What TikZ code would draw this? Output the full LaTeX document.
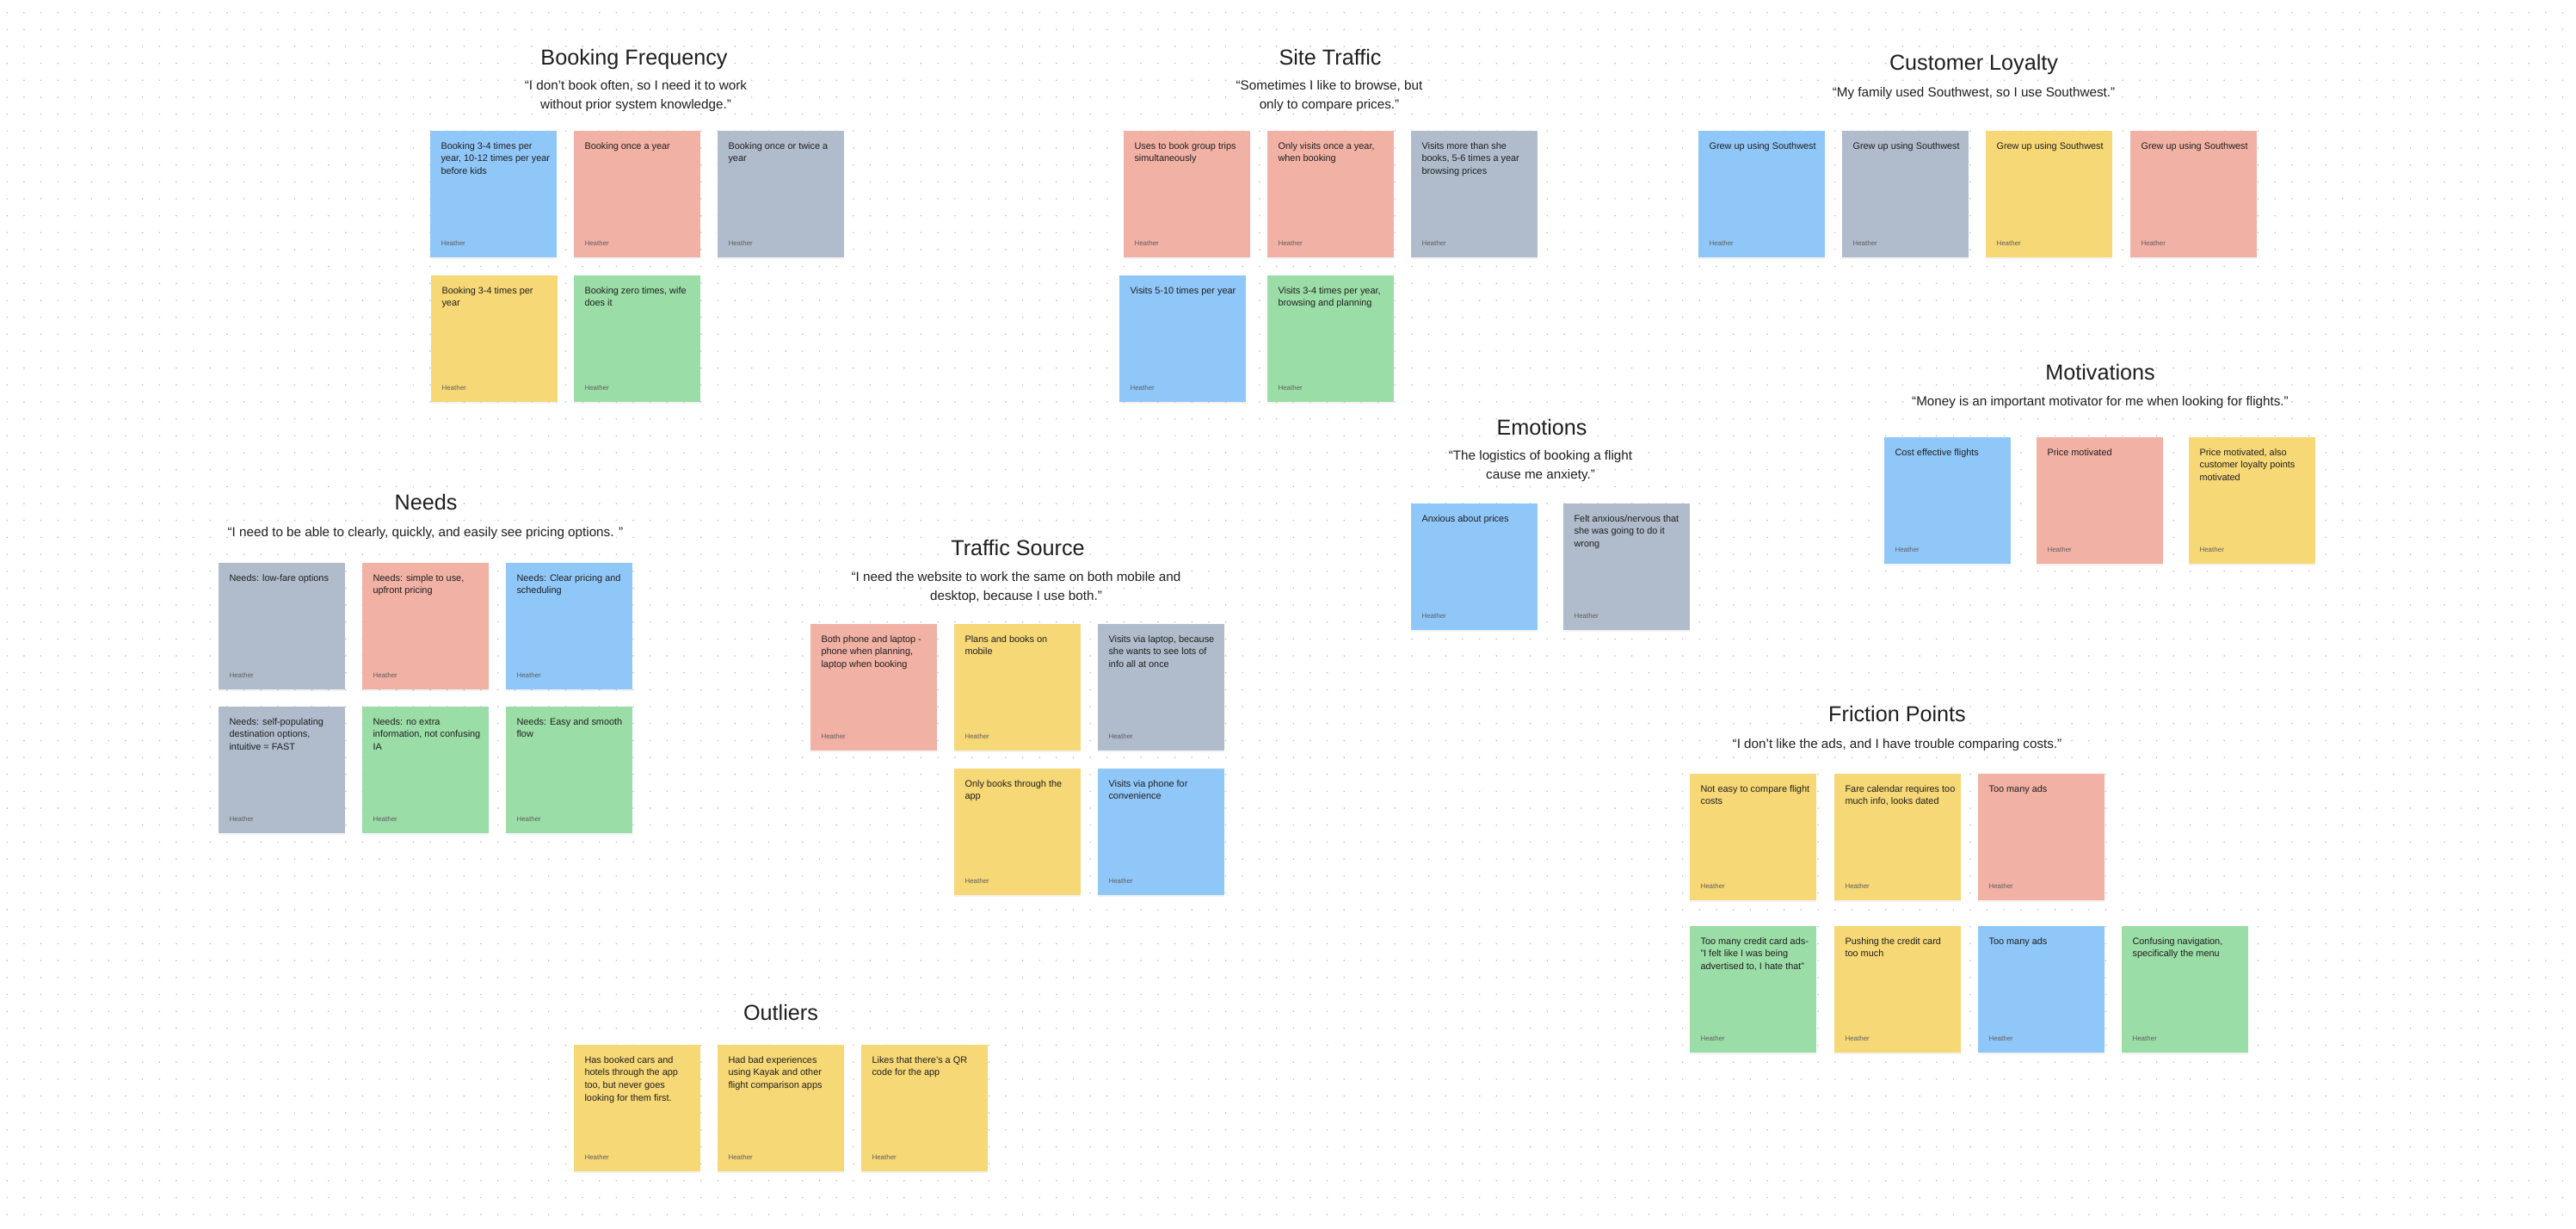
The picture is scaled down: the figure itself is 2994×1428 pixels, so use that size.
\documentclass[tikz,border=0pt]{standalone}
\usepackage{fontspec}
\setmainfont{Liberation Sans}
\usetikzlibrary{calc, shadows}
\definecolor{stickyblue}{RGB}{144,199,249}
\definecolor{stickyred}{RGB}{242,177,165}
\definecolor{stickygray}{RGB}{176,188,204}
\definecolor{stickyyellow}{RGB}{247,216,118}
\definecolor{stickygreen}{RGB}{155,221,167}
\definecolor{inkdark}{RGB}{30,30,30}
\definecolor{authorgray}{RGB}{95,95,95}
\definecolor{dotgray}{RGB}{196,196,196}
\tikzset{
  note/.style={rectangle, anchor=north west, minimum width=4.41cm,
    minimum height=4.41cm, inner sep=0pt, outer sep=0pt,
    drop shadow={shadow xshift=0pt, shadow yshift=-0.07cm, opacity=0.1}},
  notetext/.style={anchor=north west, align=left, inner sep=0pt,
    text=inkdark, font=\fontsize{9.3}{12.5}\selectfont},
  author/.style={anchor=base west, inner sep=0pt, text=authorgray,
    font=\fontsize{6.8}{8}\selectfont},
  heading/.style={anchor=base, inner sep=0pt, text=inkdark,
    font=\fontsize{21.5}{26}\selectfont},
  quotetext/.style={anchor=north, align=center, inner sep=0pt,
    text=inkdark, font=\fontsize{13}{18.5}\selectfont},
  dotrow/.style={dotgray, line width=0.055cm, line cap=round,
    dash pattern=on 0pt off 0.5901cm}
}
% one sticky note: name, left, top, colour, text
\newcommand{\sticky}[5]{%
  \node[note, fill=#4] (#1) at (#2,#3) {};
  \node[notetext] (#1-text) at ($(#1.north west)+(12.3,13.1)$) {#5};
  \node[author] (#1-name) at ($(#1.south west)+(12.3,-14)$) {Heather};
}

\begin{document}
\begin{tikzpicture}[x=0.03cm, y=-0.03cm]
  % Canvas
  \fill[white] (0,0) rectangle (2994,1428);
  \useasboundingbox (0,0) rectangle (2994,1428);
  % Dot grid
  \foreach \r in {0,...,71} {
    \draw[dotrow] (8.25,{14.6+\r*19.67}) -- (2994,{14.6+\r*19.67});
  }

  % Booking Frequency
  \node[heading] (bf-title) at (737,75) {Booking Frequency};
  \node[quotetext] (bf-quote) at (739,93.6) {“I don’t book often, so I need it to work\\without prior system knowledge.”};
  \sticky{bf1}{500}{152}{stickyblue}{Booking 3-4 times per\\year, 10-12 times per year\\before kids}
  \sticky{bf2}{667}{152}{stickyred}{Booking once a year}
  \sticky{bf3}{834}{152}{stickygray}{Booking once or twice a\\year}
  \sticky{bf4}{501}{320}{stickyyellow}{Booking 3-4 times per\\year}
  \sticky{bf5}{667}{320}{stickygreen}{Booking zero times, wife\\does it}

  % Site Traffic
  \node[heading] (st-title) at (1546,75) {Site Traffic};
  \node[quotetext] (st-quote) at (1545,93.6) {“Sometimes I like to browse, but\\only to compare prices.”};
  \sticky{st1}{1306}{152}{stickyred}{Uses to book group trips\\simultaneously}
  \sticky{st2}{1473}{152}{stickyred}{Only visits once a year,\\when booking}
  \sticky{st3}{1640}{152}{stickygray}{Visits more than she\\books, 5-6 times a year\\browsing prices}
  \sticky{st4}{1301}{320}{stickyblue}{Visits 5-10 times per year}
  \sticky{st5}{1473}{320}{stickygreen}{Visits 3-4 times per year,\\browsing and planning}

  % Customer Loyalty
  \node[heading] (cl-title) at (2294,81) {Customer Loyalty};
  \node[quotetext] (cl-quote) at (2294,101.3) {“My family used Southwest, so I use Southwest.”};
  \sticky{cl1}{1974}{152}{stickyblue}{Grew up using Southwest}
  \sticky{cl2}{2141}{152}{stickygray}{Grew up using Southwest}
  \sticky{cl3}{2308}{152}{stickyyellow}{Grew up using Southwest}
  \sticky{cl4}{2476}{152}{stickyred}{Grew up using Southwest}

  % Needs
  \node[heading] (nd-title) at (495,592.7) {Needs};
  \node[quotetext] (nd-quote) at (494.5,612.6) {“I need to be able to clearly, quickly, and easily see pricing options. ”};
  \sticky{nd1}{254}{654}{stickygray}{Needs: low-fare options}
  \sticky{nd2}{421}{654}{stickyred}{Needs: simple to use,\\upfront pricing}
  \sticky{nd3}{588}{654}{stickyblue}{Needs: Clear pricing and\\scheduling}
  \sticky{nd4}{254}{821}{stickygray}{Needs: self-populating\\destination options,\\intuitive = FAST}
  \sticky{nd5}{421}{821}{stickygreen}{Needs: no extra\\information, not confusing\\IA}
  \sticky{nd6}{588}{821}{stickygreen}{Needs: Easy and smooth\\flow}

  % Traffic Source
  \node[heading] (ts-title) at (1183,645) {Traffic Source};
  \node[quotetext] (ts-quote) at (1181,664.3) {“I need the website to work the same on both mobile and\\desktop, because I use both.”};
  \sticky{ts1}{942}{725}{stickyred}{Both phone and laptop -\\phone when planning,\\laptop when booking}
  \sticky{ts2}{1109}{725}{stickyyellow}{Plans and books on\\mobile}
  \sticky{ts3}{1276}{725}{stickygray}{Visits via laptop, because\\she wants to see lots of\\info all at once}
  \sticky{ts4}{1109}{893}{stickyyellow}{Only books through the\\app}
  \sticky{ts5}{1276}{893}{stickyblue}{Visits via phone for\\convenience}

  % Emotions
  \node[heading] (em-title) at (1792,505) {Emotions};
  \node[quotetext] (em-quote) at (1790.5,523.6) {“The logistics of booking a flight\\cause me anxiety.”};
  \sticky{em1}{1640}{585}{stickyblue}{Anxious about prices}
  \sticky{em2}{1817}{585}{stickygray}{Felt anxious/nervous that\\she was going to do it\\wrong}

  % Motivations
  \node[heading] (mo-title) at (2441,441.2) {Motivations};
  \node[quotetext] (mo-quote) at (2441,460.2) {“Money is an important motivator for me when looking for flights.”};
  \sticky{mo1}{2190}{508}{stickyblue}{Cost effective flights}
  \sticky{mo2}{2367}{508}{stickyred}{Price motivated}
  \sticky{mo3}{2544}{508}{stickyyellow}{Price motivated, also\\customer loyalty points\\motivated}

  % Friction Points
  \node[heading] (fp-title) at (2205,838.3) {Friction Points};
  \node[quotetext] (fp-quote) at (2205,857.9) {“I don’t like the ads, and I have trouble comparing costs.”};
  \sticky{fp1}{1964}{899}{stickyyellow}{Not easy to compare flight\\costs}
  \sticky{fp2}{2132}{899}{stickyyellow}{Fare calendar requires too\\much info, looks dated}
  \sticky{fp3}{2299}{899}{stickyred}{Too many ads}
  \sticky{fp4}{1964}{1076}{stickygreen}{Too many credit card ads-\\"I felt like I was being\\advertised to, I hate that"}
  \sticky{fp5}{2132}{1076}{stickyyellow}{Pushing the credit card\\too much}
  \sticky{fp6}{2299}{1076}{stickyblue}{Too many ads}
  \sticky{fp7}{2466}{1076}{stickygreen}{Confusing navigation,\\specifically the menu}

  % Outliers
  \node[heading] (ou-title) at (907.5,1185) {Outliers};
  \sticky{ou1}{667}{1214}{stickyyellow}{Has booked cars and\\hotels through the app\\too, but never goes\\looking for them first.}
  \sticky{ou2}{834}{1214}{stickyyellow}{Had bad experiences\\using Kayak and other\\flight comparison apps}
  \sticky{ou3}{1001}{1214}{stickyyellow}{Likes that there’s a QR\\code for the app}
\end{tikzpicture}
\end{document}
